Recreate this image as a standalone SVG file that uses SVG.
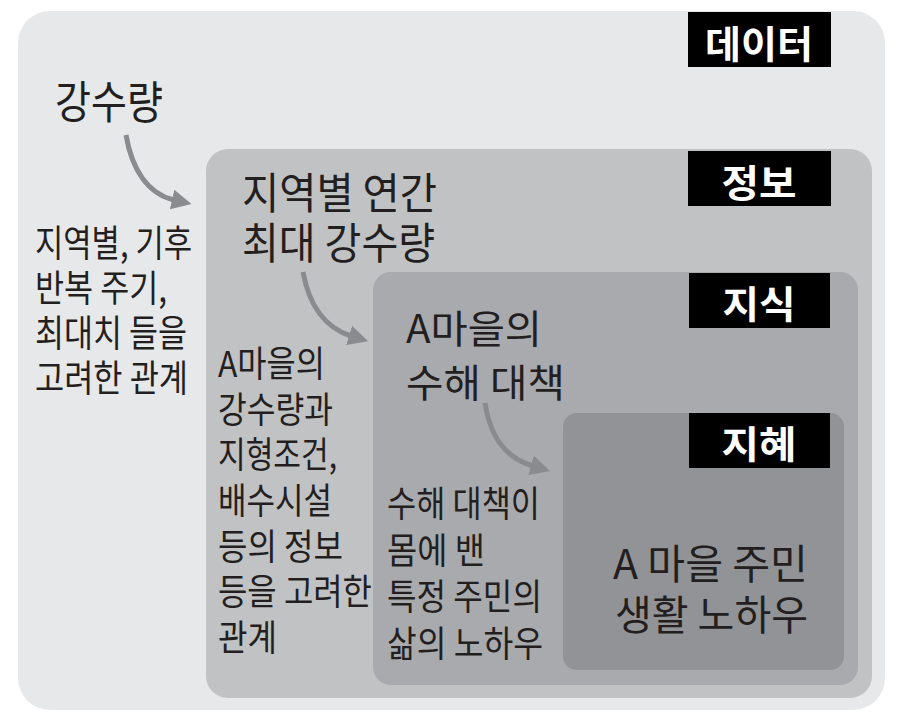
<svg xmlns="http://www.w3.org/2000/svg" width="898" height="718" viewBox="0 0 898 718">
<defs>
<marker id="ah" markerUnits="userSpaceOnUse" markerWidth="22" markerHeight="22" refX="2" refY="11" orient="auto">
<path d="M0,1 L20,11 L0,21 Z" fill="#8a8b8e"/>
</marker>
<style>
.t{font-family:"Noto Sans CJK KR","Noto Sans",sans-serif;fill:#231f20;}
.lbl{font-family:"Noto Sans CJK KR","Noto Sans",sans-serif;fill:#ffffff;font-weight:bold;font-size:38px;}
.box{fill:#000000;}
.arr{fill:none;stroke:#8a8b8e;stroke-width:5;stroke-linecap:butt;marker-end:url(#ah);}
</style>
</defs>
<rect width="898" height="718" fill="#ffffff"/>
<g id="data">
<rect x="18" y="11" width="867" height="699" rx="32" fill="#e7e8e9"/>
<rect class="box" x="688" y="12" width="143" height="55"/>
<text class="lbl" x="759" y="58" text-anchor="middle" textLength="108" lengthAdjust="spacingAndGlyphs">데이터</text>
<text class="t" x="55" y="119" font-size="45" textLength="108" lengthAdjust="spacingAndGlyphs">강수량</text>
<text class="t" x="35" y="257" font-size="37" textLength="157" lengthAdjust="spacingAndGlyphs">지역별, 기후</text>
<text class="t" x="35" y="302" font-size="37" textLength="132" lengthAdjust="spacingAndGlyphs">반복 주기,</text>
<text class="t" x="35" y="347" font-size="37" textLength="152" lengthAdjust="spacingAndGlyphs">최대치 들을</text>
<text class="t" x="35" y="392" font-size="37" textLength="153" lengthAdjust="spacingAndGlyphs">고려한 관계</text>
</g>
<g id="info">
<rect x="206" y="149" width="666" height="549" rx="22" fill="#c1c2c4"/>
<rect class="box" x="688" y="151" width="143" height="55"/>
<text class="lbl" x="759" y="197" text-anchor="middle" textLength="75" lengthAdjust="spacingAndGlyphs">정보</text>
<text class="t" x="242" y="209" font-size="43" textLength="195" lengthAdjust="spacingAndGlyphs">지역별 연간</text>
<text class="t" x="242" y="259" font-size="43" textLength="193" lengthAdjust="spacingAndGlyphs">최대 강수량</text>
<text class="t" x="218" y="377" font-size="36" textLength="107" lengthAdjust="spacingAndGlyphs">A마을의</text>
<text class="t" x="218" y="423" font-size="36" textLength="115" lengthAdjust="spacingAndGlyphs">강수량과</text>
<text class="t" x="218" y="468" font-size="36" textLength="119" lengthAdjust="spacingAndGlyphs">지형조건,</text>
<text class="t" x="218" y="514" font-size="36" textLength="114" lengthAdjust="spacingAndGlyphs">배수시설</text>
<text class="t" x="218" y="560" font-size="36" textLength="125" lengthAdjust="spacingAndGlyphs">등의 정보</text>
<text class="t" x="218" y="605" font-size="36" textLength="154" lengthAdjust="spacingAndGlyphs">등을 고려한</text>
<text class="t" x="218" y="651" font-size="36" textLength="59" lengthAdjust="spacingAndGlyphs">관계</text>
</g>
<g id="knowledge">
<rect x="373" y="272" width="485" height="413" rx="18" fill="#a9aaad"/>
<rect class="box" x="689" y="273" width="141" height="55"/>
<text class="lbl" x="759" y="318" text-anchor="middle" textLength="73" lengthAdjust="spacingAndGlyphs">지식</text>
<text class="t" x="406" y="343" font-size="39" textLength="136" lengthAdjust="spacingAndGlyphs">A마을의</text>
<text class="t" x="406" y="397" font-size="39" textLength="159" lengthAdjust="spacingAndGlyphs">수해 대책</text>
<text class="t" x="387" y="517" font-size="36" textLength="153" lengthAdjust="spacingAndGlyphs">수해 대책이</text>
<text class="t" x="387" y="564" font-size="36" textLength="98" lengthAdjust="spacingAndGlyphs">몸에 밴</text>
<text class="t" x="387" y="610" font-size="36" textLength="155" lengthAdjust="spacingAndGlyphs">특정 주민의</text>
<text class="t" x="387" y="657" font-size="36" textLength="156" lengthAdjust="spacingAndGlyphs">삶의 노하우</text>
</g>
<g id="wisdom">
<rect x="563" y="413" width="281" height="257" rx="14" fill="#929396"/>
<rect class="box" x="689" y="413" width="141" height="55"/>
<text class="lbl" x="759" y="458" text-anchor="middle" textLength="75" lengthAdjust="spacingAndGlyphs">지혜</text>
<text class="t" x="613" y="579" font-size="41" textLength="195" lengthAdjust="spacingAndGlyphs">A 마을 주민</text>
<text class="t" x="615" y="630" font-size="41" textLength="193" lengthAdjust="spacingAndGlyphs">생활 노하우</text>
</g>
<g id="connectors">
<path class="arr" d="M126,135 C132,170 148,194 174,200"/>
<path class="arr" d="M303,272 C309,305 325,328 351,336"/>
<path class="arr" d="M485,403 C490,436 505,458 533,466"/>
</g>
</svg>
